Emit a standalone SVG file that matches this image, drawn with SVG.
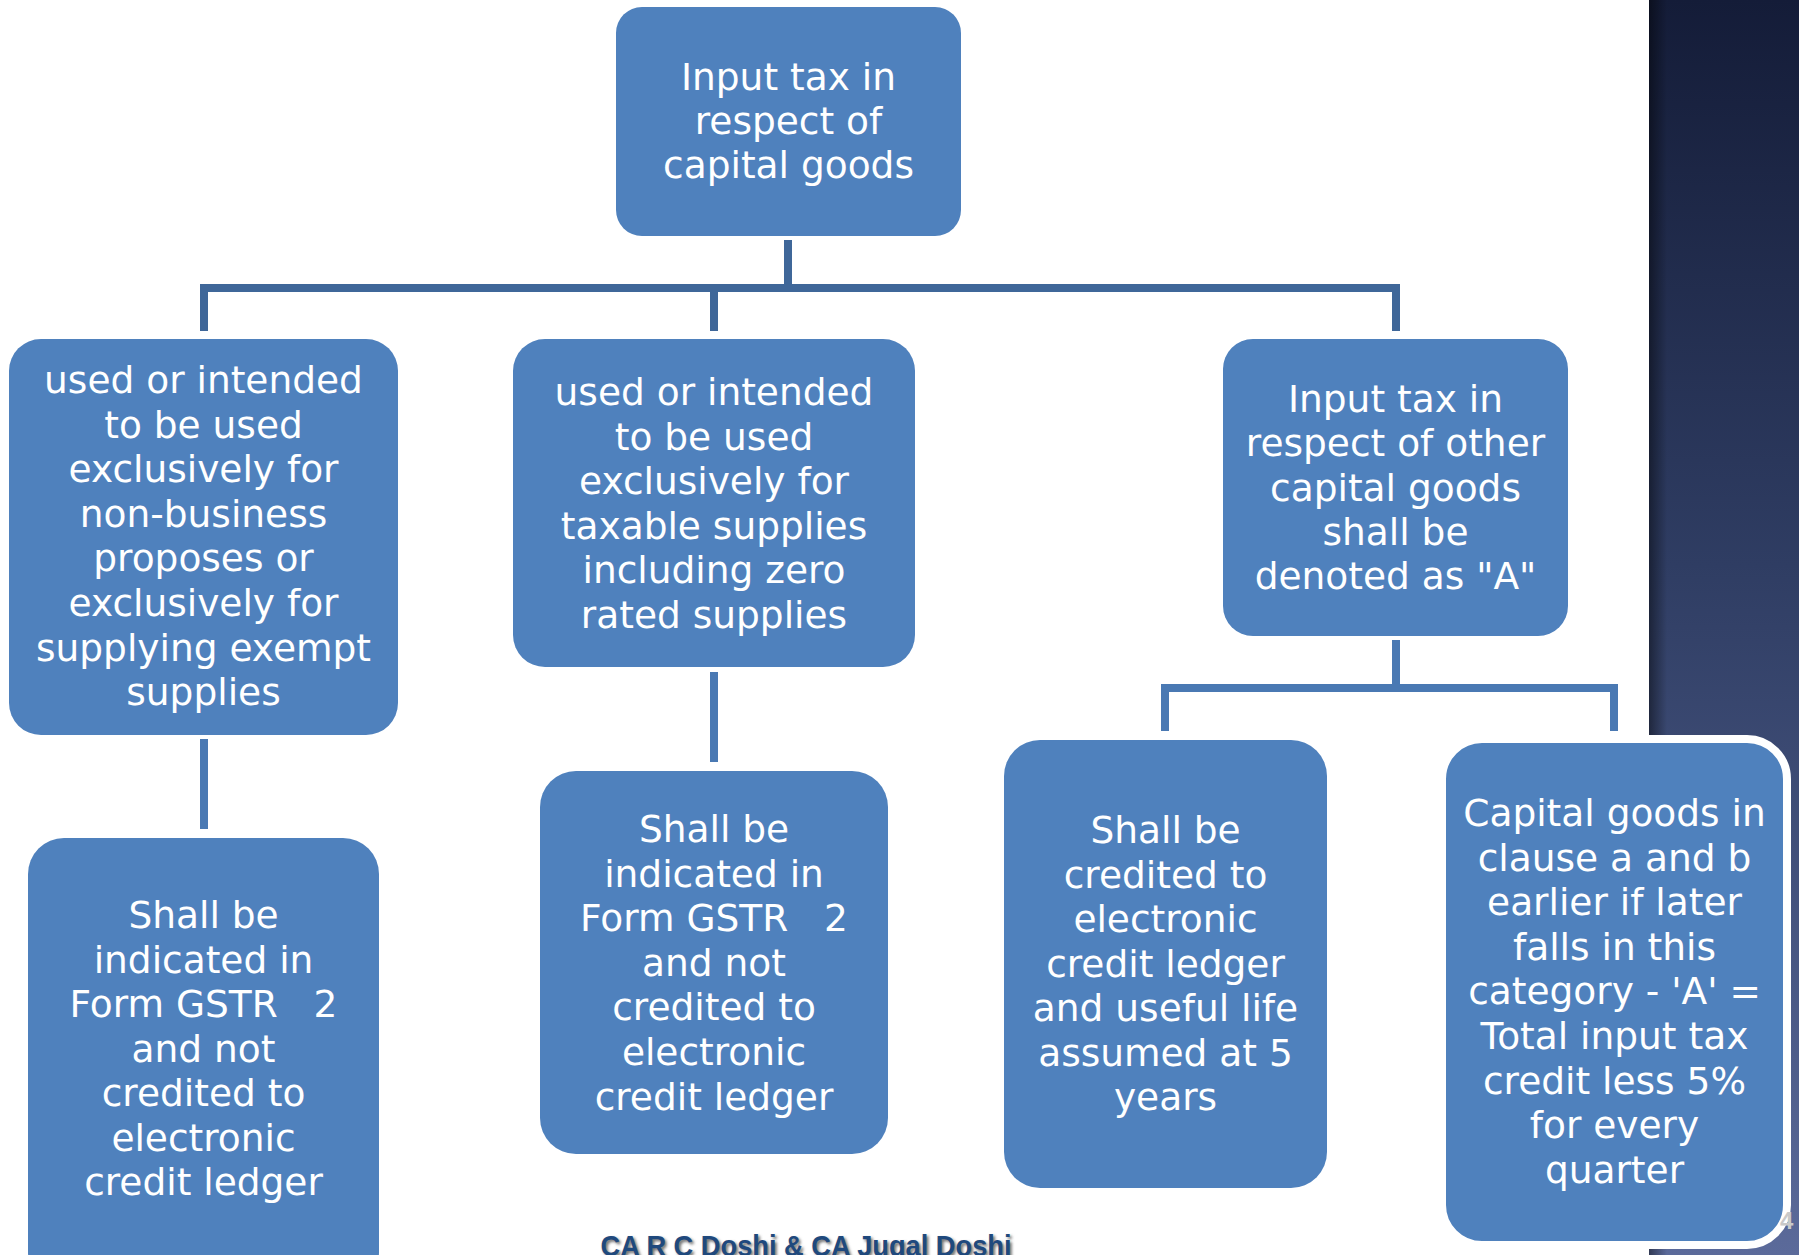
<svg xmlns="http://www.w3.org/2000/svg" width="1799" height="1255" viewBox="0 0 1799 1255">
  <defs>
    <linearGradient id="panelGrad" x1="0" y1="0" x2="0" y2="1">
      <stop offset="0" stop-color="#141c38"/>
      <stop offset="0.45" stop-color="#2f3d63"/>
      <stop offset="1" stop-color="#5b6a9a"/>
    </linearGradient>
    <linearGradient id="panelEdge" x1="0" y1="0" x2="1" y2="0">
      <stop offset="0" stop-color="#000000" stop-opacity="0.45"/>
      <stop offset="1" stop-color="#000000" stop-opacity="0"/>
    </linearGradient>
    <filter id="softShadow" x="-5%" y="-30%" width="110%" height="160%">
      <feGaussianBlur stdDeviation="1.5"/>
    </filter>
  </defs>
  <style>
    .box { fill: #4f81bd; }
    .label { fill: #ffffff; font-family: "DejaVu Sans", "Liberation Sans", sans-serif; font-size: 37.5px; text-anchor: middle; }
    .wire { fill: none; stroke-width: 8; stroke-linejoin: miter; }
    .wire-main { stroke: #3f6799; }
    .wire-sub { stroke: #4a79b3; }
    .footer { font-family: "Liberation Sans", "DejaVu Sans", sans-serif; font-weight: bold; font-size: 30px; text-anchor: middle; }
  </style>

  <rect x="0" y="0" width="1799" height="1255" fill="#ffffff"/>

  <!-- dark side panel of the slide theme -->
  <rect x="1649" y="0" width="150" height="1255" fill="url(#panelGrad)"/>
  <rect x="1649" y="0" width="18" height="1255" fill="url(#panelEdge)"/>

  <!-- connectors -->
  <g id="connectors">
    <path class="wire wire-main" d="M788,240 V288"/>
    <path class="wire wire-main" d="M204,331 V288 H1396 V331"/>
    <path class="wire wire-main" d="M714,288 V331"/>
    <path class="wire wire-sub" d="M204,739 V829"/>
    <path class="wire wire-sub" d="M714,672 V762"/>
    <path class="wire wire-sub" d="M1396,640 V688"/>
    <path class="wire wire-sub" d="M1165,731 V688 H1614 V731"/>
  </g>

  <g id="node-root">
    <rect class="box" x="616" y="7" width="345" height="229" rx="26"/>
    <text class="label" x="788.5" y="90">Input tax in<tspan x="788.5" dy="44.2">respect of</tspan><tspan x="788.5" dy="44.2">capital goods</tspan></text>
  </g>

  <g id="node-exempt">
    <rect class="box" x="9" y="339" width="389" height="396" rx="32"/>
    <text class="label" x="203.5" y="393">used or intended<tspan x="203.5" dy="44.6">to be used</tspan><tspan x="203.5" dy="44.6">exclusively for</tspan><tspan x="203.5" dy="44.6">non-business</tspan><tspan x="203.5" dy="44.6">proposes or</tspan><tspan x="203.5" dy="44.6">exclusively for</tspan><tspan x="203.5" dy="44.6">supplying exempt</tspan><tspan x="203.5" dy="44.6">supplies</tspan></text>
  </g>

  <g id="node-taxable">
    <rect class="box" x="513" y="339" width="402" height="328" rx="32"/>
    <text class="label" x="714" y="405">used or intended<tspan x="714" dy="44.6">to be used</tspan><tspan x="714" dy="44.6">exclusively for</tspan><tspan x="714" dy="44.6">taxable supplies</tspan><tspan x="714" dy="44.6">including zero</tspan><tspan x="714" dy="44.6">rated supplies</tspan></text>
  </g>

  <g id="node-other">
    <rect class="box" x="1223" y="339" width="345" height="297" rx="30"/>
    <text class="label" x="1395.5" y="412">Input tax in<tspan x="1395.5" dy="44.3">respect of other</tspan><tspan x="1395.5" dy="44.3">capital goods</tspan><tspan x="1395.5" dy="44.3">shall be</tspan><tspan x="1395.5" dy="44.3">denoted as "A"</tspan></text>
  </g>

  <g id="node-exempt-result">
    <rect class="box" x="28" y="838" width="351" height="450" rx="36"/>
    <text class="label" x="203.5" y="928" xml:space="preserve">Shall be<tspan x="203.5" dy="44.5">indicated in</tspan><tspan x="203.5" dy="44.5">Form GSTR   2</tspan><tspan x="203.5" dy="44.5">and not</tspan><tspan x="203.5" dy="44.5">credited to</tspan><tspan x="203.5" dy="44.5">electronic</tspan><tspan x="203.5" dy="44.5">credit ledger</tspan></text>
  </g>

  <g id="node-taxable-result">
    <rect class="box" x="540" y="771" width="348" height="383" rx="36"/>
    <text class="label" x="714" y="842" xml:space="preserve">Shall be<tspan x="714" dy="44.6">indicated in</tspan><tspan x="714" dy="44.6">Form GSTR   2</tspan><tspan x="714" dy="44.6">and not</tspan><tspan x="714" dy="44.6">credited to</tspan><tspan x="714" dy="44.6">electronic</tspan><tspan x="714" dy="44.6">credit ledger</tspan></text>
  </g>

  <g id="node-credited">
    <rect class="box" x="1004" y="740" width="323" height="448" rx="36"/>
    <text class="label" x="1165.5" y="843">Shall be<tspan x="1165.5" dy="44.5">credited to</tspan><tspan x="1165.5" dy="44.5">electronic</tspan><tspan x="1165.5" dy="44.5">credit ledger</tspan><tspan x="1165.5" dy="44.5">and useful life</tspan><tspan x="1165.5" dy="44.5">assumed at 5</tspan><tspan x="1165.5" dy="44.5">years</tspan></text>
  </g>

  <g id="node-earlier">
    <rect class="box" x="1442" y="739" width="345" height="506" rx="40" stroke="#ffffff" stroke-width="8"/>
    <text class="label" x="1614.5" y="826">Capital goods in<tspan x="1614.5" dy="44.6">clause a and b</tspan><tspan x="1614.5" dy="44.6">earlier if later</tspan><tspan x="1614.5" dy="44.6">falls in this</tspan><tspan x="1614.5" dy="44.6">category - 'A' =</tspan><tspan x="1614.5" dy="44.6">Total input tax</tspan><tspan x="1614.5" dy="44.6">credit less 5%</tspan><tspan x="1614.5" dy="44.6">for every</tspan><tspan x="1614.5" dy="44.6">quarter</tspan></text>
  </g>

  <!-- slide number -->
  <text x="1780" y="1229" font-family="Liberation Sans, sans-serif" font-weight="bold" font-size="24" fill="#c9c9c9">4</text>

  <!-- footer credit with soft shadow -->
  <text class="footer" x="808" y="1258" fill="#6b6b6b" filter="url(#softShadow)" textLength="411" lengthAdjust="spacingAndGlyphs">CA R C Doshi &amp; CA Jugal Doshi</text>
  <text class="footer" x="806" y="1256" fill="#1f497d" textLength="411" lengthAdjust="spacingAndGlyphs">CA R C Doshi &amp; CA Jugal Doshi</text>
</svg>
